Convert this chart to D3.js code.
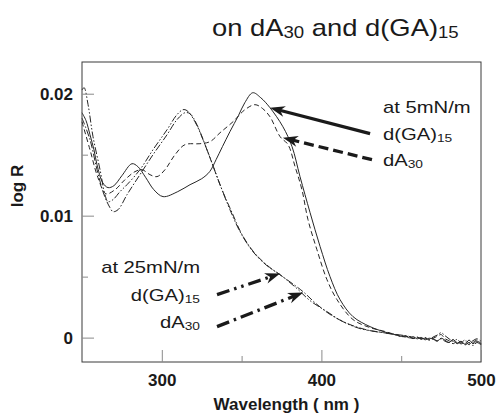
<!DOCTYPE html>
<html>
<head>
<meta charset="utf-8">
<script src="https://cdn.jsdelivr.net/npm/d3@7"></script>
<style>
  html, body { margin: 0; padding: 0; background: #fff; }
  svg { display: block; font-family: "Liberation Sans", Arial, Helvetica, sans-serif; }
</style>
</head>
<body>
<svg id="chart" width="496" height="415"></svg>
<script>
// Reflectance spectra (log R vs wavelength) of monolayers on dA30 and d(GA)15

// d(GA)15 at 5 mN/m
const wlGA5 = [250, 252.5, 255, 257.5, 259.4, 263, 266.3, 270, 275, 281.3, 285, 290, 295, 300.8, 310, 317.7, 325, 330, 334, 338, 342.7, 348, 352, 357, 362, 367.8, 375.9, 381.6, 386.6, 392.9, 399.2, 405.4, 411.7, 419.8, 430.5, 440, 445, 447.5, 450, 452.5, 455, 457.5, 460, 462.5, 465, 467.5, 470, 472.5, 475, 477.5, 480, 482.5, 485, 487.5, 490, 492.5, 495, 497.5, 500];
const logRGA5 = [0.01844, 0.0178, 0.01664, 0.0154, 0.01418, 0.0127, 0.0123, 0.01246, 0.01328, 0.01426, 0.01402, 0.01311, 0.01213, 0.01156, 0.01197, 0.01254, 0.01303, 0.01361, 0.01459, 0.01566, 0.01689, 0.0182, 0.01926, 0.02008, 0.01967, 0.01885, 0.01729, 0.01566, 0.0132, 0.01025, 0.00746, 0.005, 0.00311, 0.00172, 0.0009, 0.00045, 0.00028, 0.00018, 0.0001, 0.00015, -0.00002, 0.00008, -0.0001, 0.00002, -0.00018, -0.00005, -0.00012, -0.0003, -0.00005, -0.00022, -0.0004, -0.00015, -0.00045, -0.0003, -0.00055, -0.0002, -0.0005, -0.00028, -0.00055];

// dA30 at 5 mN/m
const wlA5 = [250, 255, 260, 265, 270.7, 276.9, 283.2, 287.6, 292.6, 297, 302, 308.3, 314.5, 323.9, 330.2, 336.5, 344.6, 352.1, 358.4, 363, 367.8, 374.1, 379.1, 383.5, 387.8, 391.6, 397.2, 403.5, 409.8, 419.8, 430.5, 440, 445, 447.5, 450, 452.5, 455, 457.5, 460, 462.5, 465, 467.5, 470, 472.5, 475, 477.5, 480, 482.5, 485, 487.5, 490, 492.5, 495, 497.5, 500];
const logRA5 = [0.0177, 0.01541, 0.01311, 0.0118, 0.01213, 0.01295, 0.01361, 0.01377, 0.01336, 0.0132, 0.01377, 0.015, 0.01582, 0.0159, 0.01607, 0.0168, 0.0177, 0.01869, 0.0191, 0.0188, 0.01811, 0.01648, 0.01582, 0.01402, 0.01213, 0.00967, 0.00721, 0.00475, 0.00311, 0.00148, 0.00082, 0.0005, 0.0003, 0.00022, 0.00005, 0.00012, 0.0, -0.00008, 0.00005, -0.00012, 0.0, -0.0002, -0.00005, 0.0001, 0.00025, -0.0001, -0.00025, -0.0005, -0.0003, -0.00052, -0.00035, -0.00058, -0.0004, -0.0002, -0.0005];

// d(GA)15 at 25 mN/m
const wlGA25 = [250, 251.3, 253.8, 256.9, 261.3, 264.4, 266.3, 269.4, 273.8, 278.2, 286.3, 294.5, 303.3, 309.5, 313.3, 315.8, 320.8, 328.3, 336.5, 342.7, 349, 357.1, 365.9, 374.1, 384.7, 392.9, 403.5, 413.5, 424.2, 438.6, 449.2, 452.5, 455, 457.5, 460, 462.5, 465, 467.5, 470, 472.5, 475, 477.5, 480, 482.5, 485, 487.5, 490, 492.5, 495, 497.5, 500];
const logRGA25 = [0.0203, 0.0205, 0.0191, 0.01648, 0.01377, 0.01172, 0.01115, 0.01131, 0.01197, 0.01254, 0.01377, 0.01541, 0.01705, 0.01828, 0.01869, 0.01861, 0.0177, 0.01541, 0.01254, 0.01049, 0.00869, 0.00705, 0.0059, 0.00516, 0.00402, 0.00303, 0.00213, 0.00131, 0.00074, 0.00041, 0.00016, 0.00005, 0.00012, -0.00005, 0.00003, -0.0001, -0.00002, -0.00015, 0.00005, 0.0002, 0.0004, 0.00015, -0.0001, -0.0003, -0.00015, -0.0004, -0.0002, -0.00045, -0.00025, -0.0001, -0.0003];

// dA30 at 25 mN/m
const wlA25 = [250, 255, 259.4, 263.8, 267.5, 269.4, 272.6, 278.2, 286.3, 294.5, 303.3, 309.5, 314.5, 317.7, 322, 329, 337.7, 344, 350.3, 358.4, 367.8, 376.6, 388.5, 396.6, 406.6, 417.9, 430.5, 443, 455.5, 458, 460, 462.5, 465, 467.5, 470, 472.5, 475, 477.5, 480, 482.5, 485, 487.5, 490, 492.5, 495, 497.5, 500];
const logRA25 = [0.018, 0.01623, 0.01377, 0.01172, 0.01066, 0.01033, 0.01049, 0.01172, 0.01336, 0.015, 0.01664, 0.01787, 0.01844, 0.01836, 0.01746, 0.01516, 0.01213, 0.01025, 0.00844, 0.00689, 0.00574, 0.00492, 0.00377, 0.00279, 0.0018, 0.00107, 0.00057, 0.00033, 0.00008, -0.00005, 0.00004, -0.00012, -0.00004, -0.0002, -0.0001, -0.00025, -0.0001, -0.0003, -0.0004, -0.00025, -0.0005, -0.00035, -0.0006, -0.0004, -0.00065, -0.0004, -0.0006];

// axis ticks
const xMajorTicks = [300, 400, 500];
const xMinorTicks = [350, 450];
const xTickLabels = ["300", "400", "500"];
const yMajorTicks = [0, 0.01, 0.02];
const yMinorTicks = [0.005, 0.015];
const yTickLabels = ["0", "0.01", "0.02"];

const svg = d3.select("#chart");
const plotLeft = 82, plotRight = 481, plotTop = 62, plotBottom = 362;

const x = d3.scaleLinear().domain([250, 500]).range([plotLeft, plotRight]);
const y = d3.scaleLinear().domain([-0.002, 0.0226]).range([plotBottom, plotTop]);

const ink = "#1a1a1a";
const tickInk = "#8a8a8a";

// curves
const series = [
  { wl: wlGA5, r: logRGA5, dash: null },
  { wl: wlA5, r: logRA5, dash: "5,3" },
  { wl: wlGA25, r: logRGA25, dash: "7,2,1.5,2,1.5,2" },
  { wl: wlA25, r: logRA25, dash: "7,2,1.5,2" }
];

const line = d3.line()
  .x(d => x(d[0]))
  .y(d => y(d[1]))
  .curve(d3.curveCatmullRom.alpha(0.5));

const plot = svg.append("g");
plot.selectAll("path.curve")
  .data(series)
  .join("path")
  .attr("class", "curve")
  .attr("fill", "none")
  .attr("stroke", "#262626")
  .attr("stroke-width", 1)
  .attr("stroke-dasharray", d => d.dash)
  .attr("d", d => line(d.wl.map((w, i) => [w, d.r[i]])));

// frame
svg.append("rect")
  .attr("x", plotLeft).attr("y", plotTop)
  .attr("width", plotRight - plotLeft).attr("height", plotBottom - plotTop)
  .attr("fill", "none").attr("stroke", "#3a3a3a").attr("stroke-width", 1);

// y axis: inward ticks, bold labels
const yAxis = d3.axisLeft(y)
  .tickValues(yMajorTicks)
  .tickSize(-12)
  .tickPadding(9)
  .tickFormat((d, i) => yTickLabels[i]);
const gy = svg.append("g").attr("transform", `translate(${plotLeft},0)`).call(yAxis);
gy.select(".domain").remove();
gy.selectAll(".tick line").attr("stroke", tickInk);
gy.selectAll(".tick text")
  .attr("fill", ink).style("font-size", "17px").style("font-weight", "bold")
  .style("font-family", "'Liberation Sans', Arial, sans-serif");

const gyMinor = svg.append("g").attr("transform", `translate(${plotLeft},0)`)
  .call(d3.axisLeft(y).tickValues(yMinorTicks).tickSize(-6).tickFormat(""));
gyMinor.select(".domain").remove();
gyMinor.selectAll(".tick line").attr("stroke", tickInk);
gyMinor.selectAll(".tick text").remove();

// x axis: inward ticks, bold labels
const xAxis = d3.axisBottom(x)
  .tickValues(xMajorTicks)
  .tickSize(-12)
  .tickPadding(12)
  .tickFormat((d, i) => xTickLabels[i]);
const gx = svg.append("g").attr("transform", `translate(0,${plotBottom})`).call(xAxis);
gx.select(".domain").remove();
gx.selectAll(".tick line").attr("stroke", tickInk);
gx.selectAll(".tick text")
  .attr("fill", ink).style("font-size", "17px").style("font-weight", "bold")
  .style("font-family", "'Liberation Sans', Arial, sans-serif");

const gxMinor = svg.append("g").attr("transform", `translate(0,${plotBottom})`)
  .call(d3.axisBottom(x).tickValues(xMinorTicks).tickSize(-6).tickFormat(""));
gxMinor.select(".domain").remove();
gxMinor.selectAll(".tick line").attr("stroke", tickInk);
gxMinor.selectAll(".tick text").remove();

// axis titles
svg.append("text")
  .attr("x", (plotLeft + plotRight) / 2 + 5).attr("y", 410)
  .attr("text-anchor", "middle")
  .attr("fill", ink).style("font-size", "17px").style("font-weight", "bold")
  .text("Wavelength ( nm )");

svg.append("text")
  .attr("transform", "translate(23,186) rotate(-90)")
  .attr("text-anchor", "middle")
  .attr("fill", ink).style("font-size", "17px").style("font-weight", "bold")
  .text("log R");

// text with subscripts, drawn slightly widened
function label(xPos, yPos, parts, size, anchor, subShift) {
  const g = svg.append("g").attr("transform", `translate(${xPos},${yPos}) scale(1.19,1)`);
  const t = g.append("text").attr("text-anchor", anchor).attr("fill", ink)
    .style("font-size", size + "px");
  let lowered = false;
  parts.forEach(p => {
    const span = t.append("tspan");
    if (p.sub) {
      span.attr("dy", subShift).style("font-size", (size * 0.68) + "px").text(p.sub);
      lowered = true;
    } else {
      if (lowered) span.attr("dy", -subShift);
      span.text(p.t);
      lowered = false;
    }
  });
}

label(212, 36, [{ t: "on dA" }, { sub: "30" }, { t: " and d(GA)" }, { sub: "15" }], 23, "start", 1.5);

label(383, 113, [{ t: "at 5mN/m" }], 17, "start", 2);
label(383, 140, [{ t: "d(GA)" }, { sub: "15" }], 17, "start", 2);
label(383, 166, [{ t: "dA" }, { sub: "30" }], 17, "start", 2);

label(200, 273, [{ t: "at 25mN/m" }], 17, "end", 2);
label(200, 301, [{ t: "d(GA)" }, { sub: "15" }], 17, "end", 2);
label(200, 328, [{ t: "dA" }, { sub: "30" }], 17, "end", 2);

// annotation arrows (tail -> tip, in data units)
const arrows = [
  { from: [430.5, 0.01672], to: [367.8, 0.01885], dash: null },
  { from: [431.7, 0.01459], to: [375.9, 0.01639], dash: "10,5" },
  { from: [334.6, 0.00352], to: [374.1, 0.00525], dash: "13,5,2.5,5,2.5,5" },
  { from: [334.6, 0.0009], to: [388.5, 0.00369], dash: "13,5,2.5,5" }
];

const arrowG = svg.append("g");
arrows.forEach(a => {
  const x0 = x(a.from[0]), y0 = y(a.from[1]);
  const x1 = x(a.to[0]), y1 = y(a.to[1]);
  const ang = Math.atan2(y1 - y0, x1 - x0);
  const back = 8;
  arrowG.append("line")
    .attr("x1", x0).attr("y1", y0)
    .attr("x2", x1 - back * Math.cos(ang)).attr("y2", y1 - back * Math.sin(ang))
    .attr("stroke", ink).attr("stroke-width", 3.3)
    .attr("stroke-dasharray", a.dash);
  arrowG.append("path")
    .attr("d", "M0,0 L-15,-5.5 L-10.5,0 L-15,5.5 Z")
    .attr("transform", `translate(${x1},${y1}) rotate(${ang * 180 / Math.PI})`)
    .attr("fill", ink);
});
</script>
</body>
</html>
